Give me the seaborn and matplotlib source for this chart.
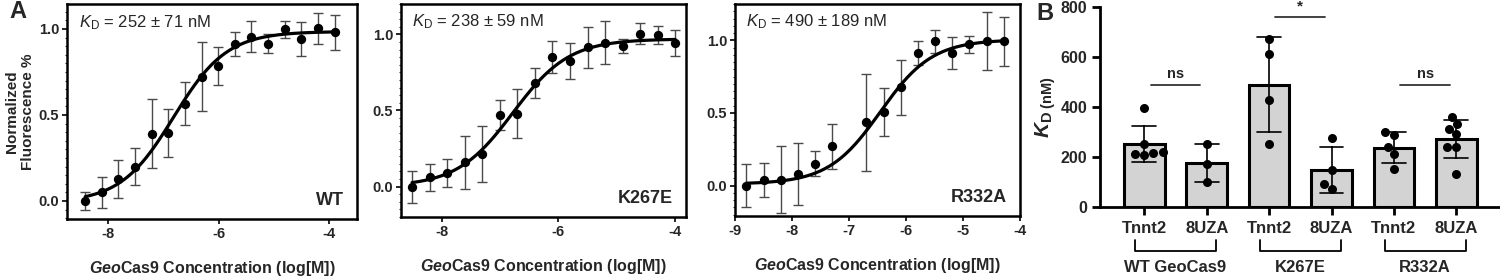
import numpy as np
import pandas as pd
import matplotlib
matplotlib.use("Agg")
import matplotlib.pyplot as plt
import matplotlib.transforms as mtransforms
from matplotlib.ticker import MultipleLocator, FormatStrFormatter
import seaborn as sns

# ---------------- Panel A data ----------------
wt_x0 = -8.42
wt_y = [0.0, 0.05, 0.126, 0.20, 0.39, 0.393, 0.564, 0.723, 0.785, 0.91, 0.955, 0.915, 0.998, 0.94, 1.004, 0.98]
wt_err = [0.05, 0.09, 0.11, 0.105, 0.20, 0.14, 0.125, 0.20, 0.11, 0.07, 0.09, 0.055, 0.05, 0.10, 0.09, 0.10]

k267e_x0 = -8.51
k267e_y = [0.0, 0.06, 0.09, 0.16, 0.215, 0.47, 0.48, 0.68, 0.85, 0.824, 0.917, 0.945, 0.923, 1.004, 0.996, 0.945]
k267e_err = [0.105, 0.09, 0.09, 0.175, 0.185, 0.10, 0.16, 0.10, 0.105, 0.12, 0.135, 0.14, 0.045, 0.07, 0.06, 0.085]

r332a_x0 = -8.80
r332a_idx = [0, 1, 2, 3, 4, 5, 7, 8, 9, 10, 11, 12, 13, 14, 15]
r332a_y = [0.0, 0.037, 0.04, 0.08, 0.15, 0.27, 0.434, 0.505, 0.676, 0.913, 0.993, 0.913, 0.973, 0.993, 0.993]
r332a_err = [0.145, 0.115, 0.23, 0.215, 0.085, 0.155, 0.335, 0.167, 0.19, 0.08, 0.08, 0.11, 0.06, 0.20, 0.17]

dil_step = 0.301  # log10(2) dilution step

# fitted curve parameters: bottom, top, logEC50, hill
wt_fit = [-0.01, 0.985, -6.82, 0.90]
k267e_fit = [0.0, 0.97, -6.78, 0.90]
r332a_fit = [0.01, 1.005, -6.45, 0.95]

kd_labels = ["252 ± 71 nM", "238 ± 59 nM", "490 ± 189 nM"]
mutant_names = ["WT", "K267E", "R332A"]

# ---------------- Panel B data ----------------
bar_ids = ["WT_Tnnt2", "WT_8UZA", "K267E_Tnnt2", "K267E_8UZA", "R332A_Tnnt2", "R332A_8UZA"]
bar_ticklabels = ["Tnnt2", "8UZA", "Tnnt2", "8UZA", "Tnnt2", "8UZA"]
group_names = ["WT GeoCas9", "K267E", "R332A"]
kd_wt_tnnt2 = [395, 251, 213, 217, 221, 208]
kd_wt_8uza = [253, 173, 100]
kd_k267e_tnnt2 = [671, 611, 427, 251]
kd_k267e_8uza = [277, 147, 73, 93]
kd_r332a_tnnt2 = [301, 287, 240, 211, 151]
kd_r332a_8uza = [361, 331, 313, 291, 240, 240, 133]
sig_labels = ["ns", "*", "ns"]
sig_heights = [489, 762, 489]

# ---------------- style ----------------
sns.set_theme(style="ticks")
plt.rcParams["font.family"] = ["Liberation Sans", "DejaVu Sans"]
plt.rcParams["mathtext.fontset"] = "custom"
plt.rcParams["mathtext.it"] = "Liberation Sans:italic"
plt.rcParams["mathtext.rm"] = "Liberation Sans"
plt.rcParams["mathtext.bf"] = "Liberation Sans:italic:bold"
plt.rcParams["mathtext.sf"] = "Liberation Sans:bold"

fig = plt.figure(figsize=(15, 2.77), dpi=100)
W, H = 1500.0, 277.0


def ax_at(x0, y0, x1, y1):
    return fig.add_axes([x0 / W, 1 - y1 / H, (x1 - x0) / W, (y1 - y0) / H])


axA = [ax_at(67, 4, 357, 219), ax_at(401, 4, 686, 217), ax_at(735, 4, 1020, 216)]
xlims = [(-8.75, -3.5), (-8.70, -3.81), (-9.0, -4.0)]
ylims = [(-0.105, 1.145), (-0.20, 1.20), (-0.21, 1.25)]
xticks = [[-8, -6, -4], [-8, -6, -4], [-9, -8, -7, -6, -5, -4]]

datasets = [
    (wt_x0, list(range(16)), wt_y, wt_err, wt_fit),
    (k267e_x0, list(range(16)), k267e_y, k267e_err, k267e_fit),
    (r332a_x0, r332a_idx, r332a_y, r332a_err, r332a_fit),
]

for i, ax in enumerate(axA):
    x0, idx, yv, ye, fit = datasets[i]
    xv = [x0 + dil_step * k for k in idx]
    b, t, ec, h = fit
    xc = np.linspace(xv[0], xv[-1], 300)
    yc = b + (t - b) / (1 + 10 ** ((ec - xc) * h))
    ax.errorbar(xv, yv, yerr=ye, fmt="none", ecolor="#4a4a4a", elinewidth=1.0,
                capsize=3.6, capthick=1.0, zorder=2)
    sns.lineplot(x=xc, y=yc, ax=ax, color="black", linewidth=2.3, zorder=3)
    sns.scatterplot(x=xv, y=yv, ax=ax, color="black", s=45, edgecolor="black",
                    linewidth=0, zorder=4)
    ax.set_xlim(*xlims[i])
    ax.set_ylim(*ylims[i])
    ax.set_xticks(xticks[i])
    ax.set_xticklabels([f"{v}" for v in xticks[i]])
    ax.set_yticks([0.0, 0.5, 1.0])
    ax.yaxis.set_major_formatter(FormatStrFormatter("%.1f"))
    ax.yaxis.set_minor_locator(MultipleLocator(0.05))
    ax.tick_params(axis="both", which="major", labelsize=10.5, width=1.2, length=3.5, pad=2, color="black")
    ax.tick_params(axis="y", which="minor", length=1.8, width=0.8)
    for lab in ax.get_xticklabels() + ax.get_yticklabels():
        lab.set_fontweight("bold")
    for sp in ax.spines.values():
        sp.set_linewidth(1.8)
        sp.set_color("black")
    ax.set_xlabel(r"$\mathbf{Geo}$Cas9 Concentration (log[M])", fontsize=11.5,
                  fontweight="bold", labelpad=13)
    ax.text(0.04, 0.915, r"$\mathit{K}_{\mathrm{D}}$ = " + kd_labels[i], transform=ax.transAxes,
            fontsize=12, ha="left", va="center")
    ax.text(0.955, 0.085, mutant_names[i], transform=ax.transAxes, fontsize=13,
            fontweight="bold", ha="right", va="center")

axA[0].set_ylabel("Normalized\nFluorescence %", fontsize=11, fontweight="bold",
                  labelpad=3, linespacing=1.1)

fig.text(9 / W, 1 - 12 / H, "A", fontsize=17, fontweight="bold", ha="left", va="center")
fig.text(1036 / W, 1 - 13 / H, "B", fontsize=17, fontweight="bold", ha="left", va="center")

# ---------------- Panel B ----------------
axB = ax_at(1100, 7, 1500, 207)
all_vals = [kd_wt_tnnt2, kd_wt_8uza, kd_k267e_tnnt2, kd_k267e_8uza, kd_r332a_tnnt2, kd_r332a_8uza]
df = pd.DataFrame({
    "cond": [bar_ids[i] for i, v in enumerate(all_vals) for _ in v],
    "kd": [x for v in all_vals for x in v],
})
sns.barplot(data=df, x="cond", y="kd", order=bar_ids, ax=axB, color="#d3d3d3",
            saturation=1, width=0.65, errorbar="sd", capsize=0.38,
            err_kws={"color": "black", "linewidth": 1.2},
            edgecolor="black", linewidth=2.2)
sns.swarmplot(data=df, x="cond", y="kd", order=bar_ids, ax=axB, color="black",
              size=6.5, zorder=5)
axB.set_xlim(-0.71, 5.7)
axB.set_ylim(0, 800)
axB.set_yticks([0, 200, 400, 600, 800])
axB.set_xticks(range(6))
axB.set_xticklabels(bar_ticklabels)
axB.set_xlabel("")
axB.set_ylabel(r"$\mathbf{K}_{\mathsf{D\ (nM)}}$", fontsize=15, labelpad=2)
sns.despine(ax=axB)
for sp in ["left", "bottom"]:
    axB.spines[sp].set_linewidth(2.0)
    axB.spines[sp].set_color("black")
axB.tick_params(axis="both", which="major", width=2.0, length=6, color="black", pad=3)
axB.tick_params(axis="y", labelsize=11.5)
axB.tick_params(axis="x", labelsize=12, pad=4)
for lab in axB.get_xticklabels() + axB.get_yticklabels():
    lab.set_fontweight("bold")

trans = mtransforms.blended_transform_factory(axB.transData, axB.transAxes)
for g in range(3):
    a, b2 = 2 * g, 2 * g + 1
    axB.plot([a - 0.15, a - 0.15, b2 + 0.15, b2 + 0.15], [-0.165, -0.218, -0.218, -0.165],
             color="black", linewidth=1.3, transform=trans, clip_on=False)
    axB.text((a + b2) / 2, -0.30, group_names[g], transform=trans, ha="center", va="center",
             fontsize=12, fontweight="bold")
    # significance
    yv = sig_heights[g]
    axB.plot([a + 0.1, b2 - 0.1], [yv, yv], color="#333333", linewidth=1.3, clip_on=False)
    if sig_labels[g] == "*":
        axB.text((a + b2) / 2, yv + 12, "*", ha="center", va="bottom", fontsize=11,
                 fontweight="bold", clip_on=False)
    else:
        axB.text((a + b2) / 2, yv + 14, "ns", ha="center", va="bottom", fontsize=10.5,
                 fontweight="bold", clip_on=False)

fig.savefig("out.png", dpi=100)
